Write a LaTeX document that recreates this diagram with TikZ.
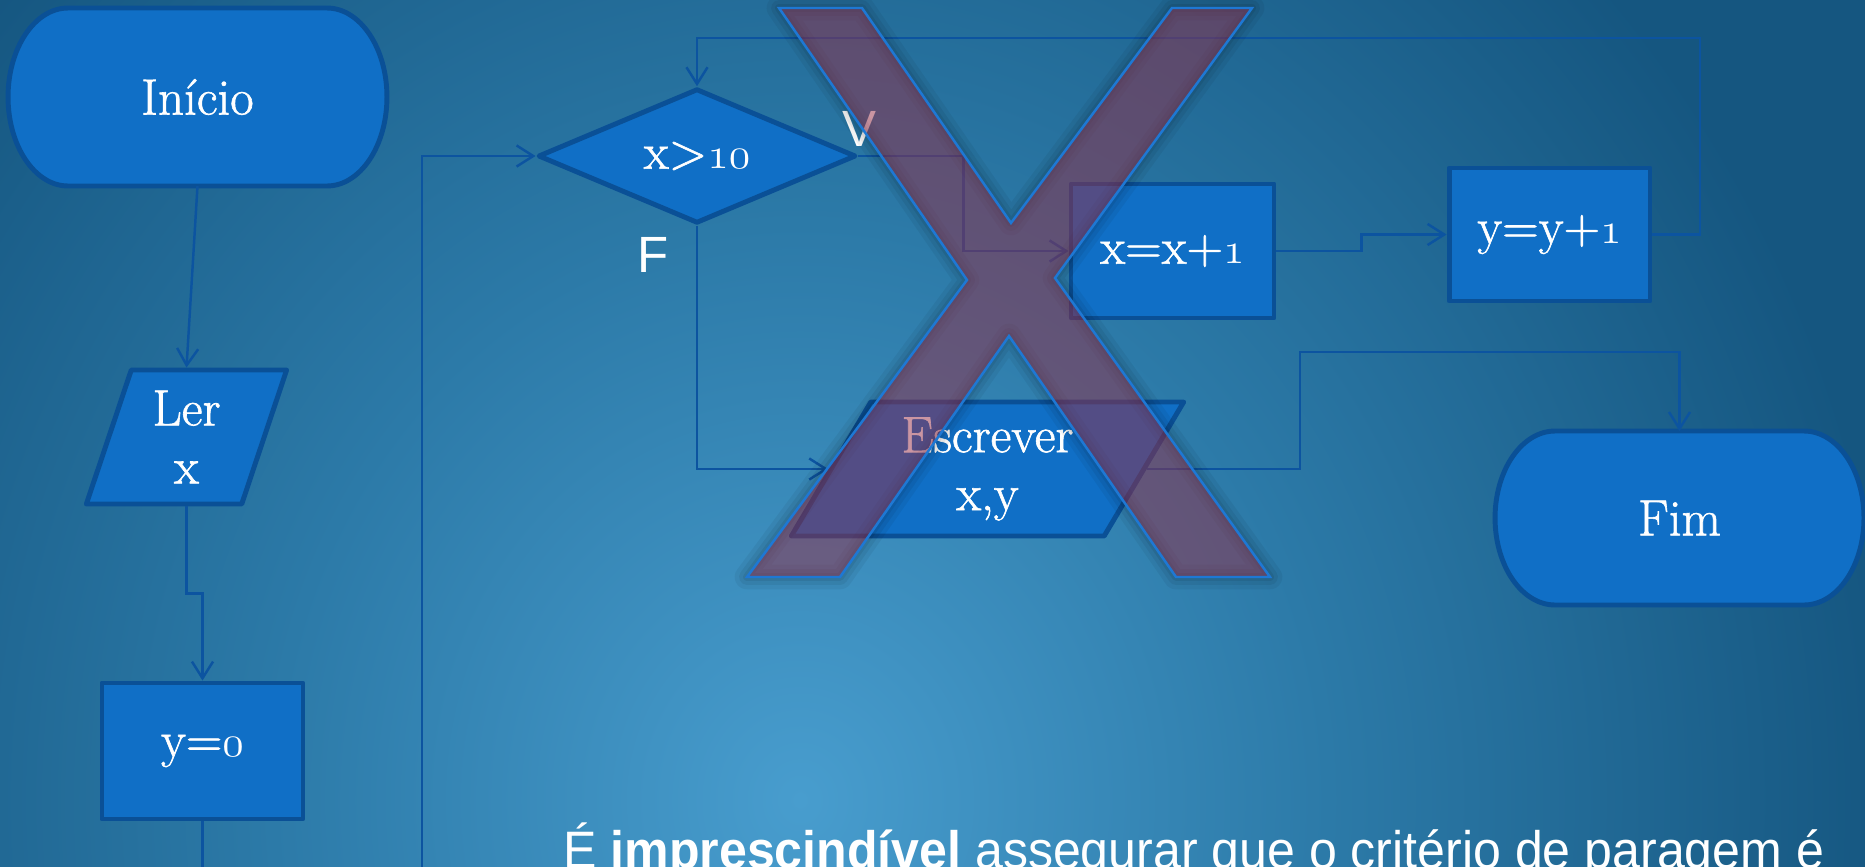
\documentclass[tikz,border=0pt]{standalone}
\usepackage{fontspec}
\usepackage{graphicx}
\usetikzlibrary{shapes.geometric,arrows.meta,calc}
\newfontfamily\labelsans{Liberation Sans}
\newfontfamily\nodeserif{Latin Modern Roman}[FakeBold=1.2]
\newcommand\serifbig{\nodeserif\fontsize{29}{33}\selectfont}
\newcommand\sansbig{\labelsans\fontsize{29}{33}\selectfont}
\newcommand\myosf[1]{{\usefont{OML}{lmm}{m}{it}#1}}
\definecolor{bgin}{RGB}{72,157,206}
\definecolor{bgmid}{RGB}{44,122,168}
\definecolor{bgout}{RGB}{21,86,128}
\definecolor{boxfill}{RGB}{16,111,198}
\definecolor{boxline}{RGB}{10,80,150}
\definecolor{connline}{RGB}{12,84,160}
\definecolor{xfill}{RGB}{150,45,70}
\definecolor{xline}{RGB}{30,120,212}
\pgfdeclarelayer{bg}
\pgfdeclarelayer{shapes}
\pgfdeclarelayer{front}
\pgfsetlayers{bg,shapes,main,front}
\pgfdeclareradialshading{bgrad}{\pgfpoint{0bp}{0bp}}{color(0bp)=(bgin); color(12bp)=(bgmid); color(25bp)=(bgout); color(50bp)=(bgout)}
\newcommand\termoutline[1]{%
 \coordinate (#1-A) at ([xshift=1.2cm]#1.north west);
 \coordinate (#1-B) at ([xshift=-1.2cm]#1.north east);
 \coordinate (#1-D) at ([xshift=-1.2cm]#1.south east);
 \coordinate (#1-E) at ([xshift=1.2cm]#1.south west);
 \draw[termline] (#1-A) -- (#1-B)
   .. controls ($(#1-B)!0.552!(#1.north east)$) and ($(#1.east)!0.552!(#1.north east)$) .. (#1.east)
   .. controls ($(#1.east)!0.552!(#1.south east)$) and ($(#1-D)!0.552!(#1.south east)$) .. (#1-D)
   -- (#1-E)
   .. controls ($(#1-E)!0.552!(#1.south west)$) and ($(#1.west)!0.552!(#1.south west)$) .. (#1.west)
   .. controls ($(#1.west)!0.552!(#1.north west)$) and ($(#1-A)!0.552!(#1.north west)$) .. (#1-A) -- cycle;}
\begin{document}
\begin{tikzpicture}[x=0.02cm,y=-0.02cm,
  base/.style={fill=boxfill, draw=boxline, line width=2.8pt, line join=round, text=white, font=\serifbig, inner sep=0pt, align=center},
  procbox/.style={base, rectangle},
  iobox/.style={base, trapezium, trapezium stretches=true},
  decbox/.style={base, diamond},
  termbox/.style={rectangle, draw=none, fill=none, text=white, font=\serifbig, outer sep=0pt, inner sep=0pt},
  termline/.style={fill=boxfill, draw=boxline, line width=2.8pt},
  conn/.style={draw=connline, line width=1.4pt, -{Straight Barb[length=9.5pt,width=12pt]}},
  lbl/.style={text=white, font=\sansbig, inner sep=0pt, anchor=base},
  xmark/.style={fill=xfill, fill opacity=0.5, draw=xline, line width=1.4pt, line join=miter}]
\useasboundingbox (0,0) rectangle (1865,866);
\begin{pgfonlayer}{bg}
 \fill[bgout] (0,0) rectangle (1865,866);
 \shade[shading=bgrad] (-300,-400) rectangle (1900,2000);
\end{pgfonlayer}
% nodes
\node[termbox, minimum width=7.58cm, minimum height=3.56cm] (ini) at (197.5,97) {Início};
\node[iobox, trapezium left angle=73.4, trapezium right angle=106.6, minimum width=4.02cm, minimum height=2.68cm] (ler) at (186.5,437) {Ler\\x};
\node[procbox, minimum width=4.02cm, minimum height=2.72cm] (yzero) at (202.5,751) {y=\myosf{0}};
\node[decbox, minimum width=6.36cm, minimum height=2.68cm] (dia) at (697,156) {x>\myosf{10}};
\node[procbox, minimum width=4.06cm, minimum height=2.68cm] (xinc) at (1172.5,251) {x=x+\myosf{1}};
\node[procbox, minimum width=4.02cm, minimum height=2.66cm] (yinc) at (1549.5,234.5) {y=y+\myosf{1}};
\node[iobox, trapezium left angle=60.4, trapezium right angle=119.6, minimum width=7.86cm, minimum height=2.68cm] (esc) at (987.5,469) {Escrever\\x,y};
\node[termbox, minimum width=7.38cm, minimum height=3.48cm] (fim) at (1679.5,518) {Fim};
\begin{pgfonlayer}{shapes}
 \termoutline{ini}
 \termoutline{fim}
\end{pgfonlayer}
% connectors
\draw[conn] (ini.south) -- (ler.north);
\draw[conn] (ler.south) |- ($(ler.south)!.5!(yzero.north)$) -| (yzero.north);
\coordinate (loopL) at (422,905);
\draw[conn] (yzero.south) |- (loopL) |- (dia.west);
\coordinate (loopT) at (1700,38);
\draw[conn] (yinc.east) -| (loopT) -| (dia.north);
\draw[conn] (dia.east) -| ($(dia.east)!.5!(xinc.west)$) |- (xinc.west);
\draw[conn] (xinc.east) -| ($(xinc.east)!.5!(yinc.west)$) |- (yinc.west);
\draw[conn] (dia.south) |- (esc.west);
\coordinate (fimJog) at (1300,352);
\draw[conn] (esc.east) -| (fimJog) -| (fim.north);
% labels
\node[lbl] (lblV) at (859,146) {V};
\node[lbl] (lblF) at (653,272) {F};
\node[anchor=base west, inner sep=0pt, text=white, font=\labelsans\fontsize{30}{36}\selectfont] (note) at (563,868) {\scalebox{0.95}[1]{É \textbf{imprescindível} assegurar que o critério de paragem é}};
% big X overlay
\begin{pgfonlayer}{front}
 \foreach \w/\o in {14pt/0.05, 9pt/0.06, 4.5pt/0.07}
   \draw[black, opacity=\o, line width=\w, line join=round] (779,8) -- (862,8) -- (1011,223) -- (1172,8) -- (1252,8) -- (1055,278) -- (1270,577) -- (1176,577) -- (1009,336) -- (840,577) -- (747,577) -- (967,280) -- cycle;
 \draw[xmark] (779,8) -- (862,8) -- (1011,223) -- (1172,8) -- (1252,8) -- (1055,278) -- (1270,577) -- (1176,577) -- (1009,336) -- (840,577) -- (747,577) -- (967,280) -- cycle;
\end{pgfonlayer}
\end{tikzpicture}
\end{document}
